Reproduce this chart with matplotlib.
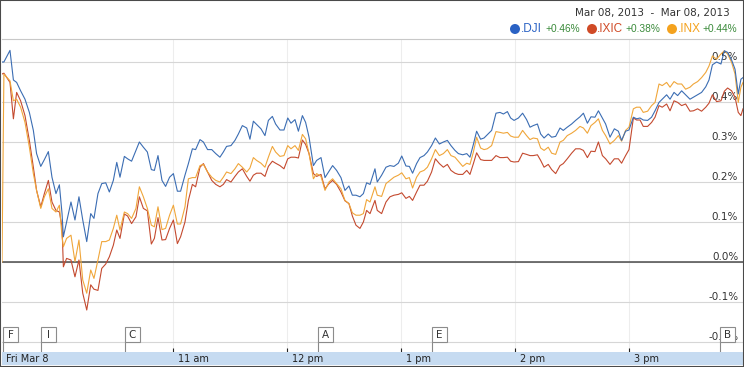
import matplotlib
matplotlib.use("Agg")
import matplotlib.pyplot as plt
import matplotlib.transforms as mtrans
from matplotlib.patches import Rectangle, Ellipse

# ---------------- data (minutes after 9:30, % change) ----------------
minutes = [
    0, 1.0, 4.2, 6.0, 7.7, 9.8, 12.1, 14.4, 16.5, 18.2,
    20.4, 22.3, 24.4, 26.3, 28.4, 30.2, 31.6, 32.3, 34.0, 36.3,
    38.4, 40.5, 42.5, 44.6, 46.7, 48.4, 50.5, 52.5, 54.6, 56.5,
    58.6, 60.4, 62.1, 64.4, 66.1, 68.2, 70.5, 72.3, 74.4, 76.5,
    78.6, 80.2, 82.1, 84.2, 86.1, 88.2, 90.2, 92.3, 94.0, 96.3,
    98.1, 100.2, 101.9, 104.2, 106.0, 108.2, 110.4, 112.5, 114.7, 116.5,
    118.2, 120.5, 122.6, 124.4, 126.5, 128.8, 130.5, 132.3, 134.0, 136.3,
    138.4, 140.2, 142.3, 144.0, 146.3, 148.4, 150.4, 152.1, 154.2, 156.0,
    158.1, 159.8, 161.6, 163.9, 165.6, 167.9, 170.0, 172.1, 174.0, 176.1,
    178.4, 180.5, 182.6, 184.4, 186.3, 188.4, 190.2, 191.9, 193.7, 196.3,
    197.5, 199.8, 202.1, 204.2, 206.3, 208.6, 210.4, 212.6, 214.4, 216.1,
    218.2, 220.0, 222.1, 223.9, 226.1, 228.1, 230.2, 232.3, 234.4, 236.3,
    238.4, 240.2, 242.5, 244.6, 246.3, 248.1, 249.8, 251.9, 253.7, 255.4,
    257.7, 260.0, 262.1, 263.9, 266.0, 267.7, 269.5, 271.8, 274.0, 276.1,
    277.9, 279.6, 281.8, 283.5, 285.3, 287.5, 289.3, 291.4,
    293.7, 295.4, 297.5, 299.8, 301.9, 304.2, 306.0, 308.1, 310.0, 312.1,
    313.9, 316.0, 317.7, 320.0, 322.3, 324.4, 326.1, 328.2, 330.0, 332.3,
    334.0, 335.8, 337.5, 339.8, 341.9, 343.7, 345.8, 347.5, 349.8, 351.6,
    353.7, 355.6, 357.7, 359.8, 362.1, 363.9, 366.1, 368.2, 370.4, 372.1,
    373.9, 376.1, 378.4, 380.2, 381.9, 384.0, 385.8, 387.5, 388.9, 390.0,
]

dji = [
    0.50, 0.50, 0.529, 0.455, 0.449, 0.428, 0.407, 0.374, 0.329, 0.271,
    0.239, 0.256, 0.276, 0.212, 0.171, 0.193, 0.121, 0.063, 0.100, 0.150,
    0.105, 0.163, 0.105, 0.051, 0.121, 0.109, 0.171, 0.196, 0.198, 0.175,
    0.204, 0.249, 0.212, 0.264, 0.258, 0.252, 0.279, 0.300, 0.287, 0.275,
    0.231, 0.229, 0.266, 0.204, 0.189, 0.212, 0.221, 0.177, 0.177, 0.217,
    0.246, 0.283, 0.281, 0.306, 0.300, 0.281, 0.281, 0.271, 0.262, 0.275,
    0.289, 0.291, 0.304, 0.320, 0.341, 0.335, 0.307, 0.352, 0.344, 0.333,
    0.316, 0.354, 0.364, 0.345, 0.330, 0.330, 0.360, 0.347, 0.356, 0.327,
    0.366, 0.349, 0.312, 0.241, 0.254, 0.261, 0.211, 0.227, 0.241, 0.229,
    0.211, 0.179, 0.190, 0.167, 0.167, 0.163, 0.171, 0.198, 0.194, 0.233,
    0.200, 0.217, 0.237, 0.241, 0.239, 0.247, 0.265, 0.240, 0.239, 0.222,
    0.246, 0.261, 0.266, 0.275, 0.291, 0.310, 0.295, 0.300, 0.304, 0.291,
    0.279, 0.271, 0.268, 0.271, 0.262, 0.294, 0.327, 0.307, 0.310, 0.318,
    0.329, 0.372, 0.374, 0.370, 0.376, 0.360, 0.354, 0.360, 0.372, 0.356,
    0.337, 0.341, 0.345, 0.320, 0.310, 0.320, 0.312, 0.314,
    0.335, 0.329, 0.337, 0.345, 0.354, 0.363, 0.372, 0.347, 0.363, 0.362,
    0.378, 0.360, 0.345, 0.312, 0.333, 0.327, 0.304, 0.327, 0.330, 0.362,
    0.358, 0.360, 0.355, 0.354, 0.362, 0.378, 0.399, 0.407, 0.418, 0.407,
    0.424, 0.416, 0.428, 0.418, 0.407, 0.412, 0.418, 0.424, 0.438, 0.455,
    0.493, 0.500, 0.495, 0.528, 0.524, 0.505, 0.482, 0.420, 0.457, 0.461,
]

ixic = [
    0.47, 0.472, 0.449, 0.358, 0.424, 0.403, 0.366, 0.304, 0.237, 0.179,
    0.138, 0.171, 0.204, 0.150, 0.129, 0.125, 0.088, -0.012, 0.009, 0.005,
    -0.037, 0.005, -0.078, -0.120, -0.057, -0.068, -0.071, -0.016, -0.005, 0.013,
    0.042, 0.080, 0.059, 0.120, 0.115, 0.096, 0.113, 0.163, 0.134, 0.128,
    0.045, 0.059, 0.111, 0.055, 0.056, 0.084, 0.105, 0.046, 0.063, 0.100,
    0.154, 0.194, 0.188, 0.237, 0.246, 0.225, 0.204, 0.194, 0.188, 0.194,
    0.206, 0.200, 0.214, 0.225, 0.233, 0.214, 0.202, 0.217, 0.222, 0.222,
    0.214, 0.239, 0.252, 0.247, 0.241, 0.233, 0.258, 0.262, 0.262, 0.260,
    0.305, 0.294, 0.271, 0.221, 0.214, 0.219, 0.183, 0.196, 0.204, 0.194,
    0.175, 0.153, 0.146, 0.115, 0.092, 0.084, 0.100, 0.129, 0.121, 0.154,
    0.129, 0.121, 0.150, 0.163, 0.167, 0.169, 0.173, 0.159, 0.164, 0.154,
    0.175, 0.192, 0.192, 0.202, 0.225, 0.258, 0.246, 0.237, 0.244, 0.229,
    0.222, 0.219, 0.219, 0.229, 0.219, 0.246, 0.273, 0.256, 0.254, 0.254,
    0.254, 0.266, 0.261, 0.261, 0.262, 0.252, 0.250, 0.251, 0.272, 0.269,
    0.266, 0.266, 0.268, 0.254, 0.237, 0.244, 0.231, 0.221,
    0.241, 0.246, 0.258, 0.272, 0.283, 0.283, 0.279, 0.261, 0.277, 0.276,
    0.300, 0.266, 0.258, 0.244, 0.258, 0.258, 0.247, 0.266, 0.281, 0.360,
    0.355, 0.355, 0.339, 0.339, 0.349, 0.362, 0.391, 0.387, 0.395, 0.378,
    0.403, 0.399, 0.391, 0.395, 0.377, 0.378, 0.383, 0.377, 0.387, 0.397,
    0.418, 0.401, 0.403, 0.427, 0.435, 0.428, 0.412, 0.374, 0.366, 0.383,
]

inx = [
    0.0, 0.47, 0.453, 0.403, 0.407, 0.387, 0.349, 0.287, 0.221, 0.179,
    0.134, 0.163, 0.183, 0.134, 0.125, 0.142, 0.063, 0.038, 0.059, 0.067,
    0.001, 0.055, -0.045, -0.078, -0.020, -0.041, 0.005, 0.051, 0.051, 0.055,
    0.084, 0.117, 0.080, 0.125, 0.121, 0.109, 0.134, 0.188, 0.163, 0.134,
    0.092, 0.088, 0.138, 0.081, 0.084, 0.117, 0.142, 0.095, 0.095, 0.138,
    0.208, 0.211, 0.211, 0.241, 0.244, 0.225, 0.212, 0.204, 0.200, 0.212,
    0.225, 0.221, 0.233, 0.246, 0.237, 0.225, 0.235, 0.261, 0.254, 0.247,
    0.237, 0.262, 0.289, 0.275, 0.264, 0.266, 0.291, 0.283, 0.291, 0.279,
    0.319, 0.308, 0.271, 0.208, 0.221, 0.214, 0.179, 0.200, 0.208, 0.196,
    0.183, 0.154, 0.146, 0.123, 0.117, 0.117, 0.121, 0.156, 0.150, 0.188,
    0.167, 0.164, 0.196, 0.204, 0.212, 0.217, 0.223, 0.208, 0.211, 0.185,
    0.212, 0.225, 0.229, 0.237, 0.258, 0.281, 0.266, 0.271, 0.281, 0.266,
    0.262, 0.252, 0.239, 0.247, 0.244, 0.275, 0.312, 0.285, 0.281, 0.283,
    0.291, 0.326, 0.324, 0.322, 0.324, 0.315, 0.312, 0.312, 0.329, 0.316,
    0.306, 0.310, 0.308, 0.285, 0.279, 0.287, 0.272, 0.269,
    0.300, 0.304, 0.316, 0.322, 0.329, 0.339, 0.335, 0.322, 0.341, 0.349,
    0.358, 0.329, 0.316, 0.295, 0.304, 0.316, 0.302, 0.329, 0.337, 0.383,
    0.387, 0.387, 0.374, 0.377, 0.391, 0.399, 0.445, 0.441, 0.449, 0.437,
    0.451, 0.445, 0.445, 0.432, 0.437, 0.445, 0.451, 0.461, 0.474, 0.490,
    0.515, 0.507, 0.520, 0.528, 0.520, 0.499, 0.470, 0.399, 0.437, 0.449,
]

series_names = [".DJI", ".IXIC", ".INX"]
series_changes = [0.46, 0.38, 0.44]

y_ticks = [-0.2, -0.1, 0.0, 0.1, 0.2, 0.3, 0.4, 0.5]
hour_ticks = [90, 150, 210, 270, 330]
x_label_pos = [0, 90, 150, 210, 270, 330]
x_labels = ["Fri Mar 8", "11 am", "12 pm", "1 pm", "2 pm", "3 pm"]

flag_labels = ["F", "I", "C", "A", "E", "B"]
flag_times = [0.5, 20.5, 64.7, 166.3, 226.3, 377.9]

date_range = "Mar 08, 2013  -  Mar 08, 2013"

# ---------------- styling ----------------
line_colors = ["#3b6db3", "#c44a2f", "#f0a63a"]
legend_colors = ["#2a62c4", "#d04a26", "#f4a21e"]
green = "#3a8a3a"
text_col = "#333333"

W, H = 744, 367
fig = plt.figure(figsize=(W / 100, H / 100), dpi=100)
fig.patch.set_facecolor("white")


def fx(px):
    return px / W


def fy(py):
    return 1 - py / H


ax = fig.add_axes([fx(2), fy(352), fx(743) - fx(2), fy(39) - fy(352)])
ax.set_xlim(0, 390)
ax.set_ylim(-0.225, 0.5575)
ax.set_yticks(y_ticks)
ax.set_xticks(hour_ticks)
ax.grid(axis="y", color="#d6d6d6", lw=0.8)
ax.grid(axis="x", color="#ededed", lw=0.8)
ax.tick_params(axis="y", length=0, labelleft=False)
ax.tick_params(axis="x", direction="in", length=3, width=0.8, color="#222222",
               labelbottom=False)
for s in ["left", "right", "bottom"]:
    ax.spines[s].set_visible(False)
ax.spines["top"].set_color("#c8c8c8")
ax.spines["top"].set_linewidth(0.8)
ax.axhline(0, color="#4d4d4d", lw=1.1, zorder=2)

for vals, c in zip([ixic, inx, dji], [line_colors[1], line_colors[2], line_colors[0]]):
    ax.plot(minutes, vals, color=c, lw=0.8, zorder=3)

# y labels inside, right
ytrans = mtrans.blended_transform_factory(ax.transAxes, ax.transData)
off = mtrans.ScaledTranslation(0, 1.5 / 100, fig.dpi_scale_trans)
for v in y_ticks:
    ax.text(0.9935, v, f"{v:.1f}%", transform=ytrans + off, ha="right",
            va="baseline", fontsize=7.5, color=text_col, zorder=2.5)

# flags
bt = mtrans.blended_transform_factory(ax.transData, ax.transAxes)
fw = 15 * 390 / 741
fh = 15 / 313
fb = 10 / 313
for lab, t in zip(flag_labels, flag_times):
    ax.plot([t, t], [0, fb], transform=bt, color="#888888", lw=0.8, zorder=4)
    ax.add_patch(Rectangle((t + 390 / 741, fb - 1 / 313), fw, fh, transform=bt,
                           fc="#bdbdbd", ec="none", zorder=4))
    ax.add_patch(Rectangle((t, fb), fw, fh, transform=bt, fc="white",
                           ec="#8c8c8c", lw=0.8, zorder=5))
    ax.text(t + fw / 2, fb + fh / 2, lab, transform=bt, ha="center", va="center",
            fontsize=7.5, color=text_col, zorder=6)

# bottom band with time labels
band = fig.add_axes([fx(2), fy(365), fx(743) - fx(2), fy(352) - fy(365)])
band.set_facecolor("#c6dbf1")
band.set_xlim(0, 390)
band.set_ylim(0, 1)
band.set_xticks([])
band.set_yticks([])
for s in band.spines.values():
    s.set_visible(False)
loff = mtrans.ScaledTranslation(4.5 / 100, 0, fig.dpi_scale_trans)
for t, lab in zip(x_label_pos, x_labels):
    band.text(t, 0.45, lab, transform=band.transData + loff, ha="left",
              va="center", fontsize=7, color="#222222")

# header legend
fig.text(fx(730), fy(13), date_range, ha="right", va="center", fontsize=7.5,
         color=text_col)
circle_x = [515, 592, 672]
name_x = [521, 597, 678]
chg_x = [545, 625, 702]
for name, chg, lc, cx, nx, gx in zip(series_names, series_changes, legend_colors,
                                     circle_x, name_x, chg_x):
    fig.add_artist(Ellipse((fx(cx), fy(29)), 10 / W, 10 / H,
                           transform=fig.transFigure, fc=lc, ec="none"))
    fig.text(fx(nx), fy(29), name, ha="left", va="center", fontsize=8.5,
             color=lc, family="Liberation Sans")
    fig.text(fx(gx), fy(29.5), f"+{chg:.2f}%", ha="left", va="center",
             fontsize=7.3, color=green, family="Liberation Sans")

# outer frame
fig.add_artist(Rectangle((0, 0), 1, 1, transform=fig.transFigure, fill=False,
                         ec="#4a4a4a", lw=1.5, zorder=10))

fig.savefig("out.png", dpi=100)
